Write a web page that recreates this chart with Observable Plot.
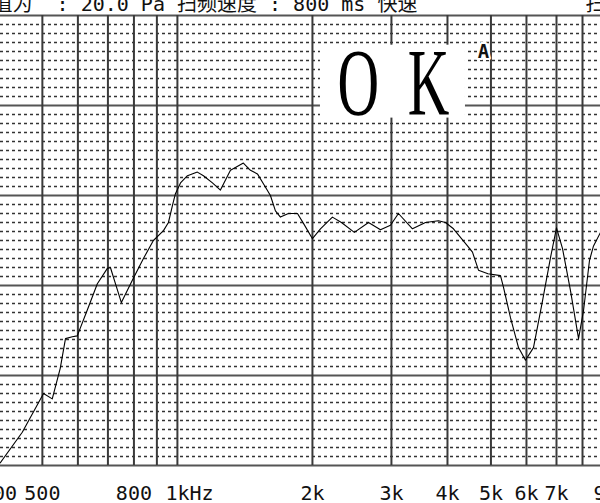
<!DOCTYPE html>
<html><head><meta charset="utf-8">
<script src="https://cdn.jsdelivr.net/npm/d3@7"></script>
<script src="https://cdn.jsdelivr.net/npm/@observablehq/plot@0.6"></script>
<style>html,body{margin:0;padding:0;background:#fff;overflow:hidden}</style>
</head><body><div id="chart"></div>
<script>
// Frequency response (Hz, dB)
const freqHz = [403,451,503,526,548,563,583,598,630,663,698,709,750,794,840,884,931,955,975,990,1016,1053,1108,1143,1197,1247,1313,1347,1403,1455,1508,1555,1612,1654,1697,1768,1852,1910,2000,2084,2216,2321,2480,2667,2836,2985,3110,3342,3573,3819,3959,4125,4432,4548,4690,4924,5251,5333,5529,5760,5970,6220,6515,6788,7000,7220,7523,7839,8041,8293,8465,8774];
const levelDb = [50.3,53.7,58.0,57.4,60.8,64.1,64.3,64.4,67.3,70.2,71.9,72.0,68.1,70.6,73.0,75.0,76.1,77.0,78.9,80.2,81.4,82.2,82.6,82.2,81.4,80.6,82.8,83.1,83.6,82.8,82.4,81.3,80.0,78.3,77.6,78.0,78.0,76.9,75.2,76.3,77.6,77.0,75.9,77.0,76.2,76.7,78.0,76.3,77.0,77.2,77.0,76.3,74.4,73.7,71.7,71.3,71.1,69.8,66.4,63.1,61.7,63.1,68.3,73.1,76.4,74.1,69.4,64.1,67.2,72.8,74.4,75.9];

const xDomain = [403.3, 8774];
const yDomain = [50, 100];
const gridFreqs = [500,600,700,800,900,1000,2000,3000,4000,5000,6000,7000,8000];
const tickFreqs = [400,500,800,1000,2000,3000,4000,5000,6000,7000,9000];
const tickLabels = ["400","500","800","1kHz","2k","3k","4k","5k","6k","7k","9k"];
const majorDb = [50,60,70,80,90,100];
const minorDb = [51,52,53,54,55,56,57,58,59,61,62,63,64,65,66,67,68,69,71,72,73,74,75,76,77,78,79,81,82,83,84,85,86,87,88,89,91,92,93,94,95,96,97,98,99];

const headerLeft = "值为  : 20.0 Pa 扫频速度 : 800 ms 快速";
const headerRight = "扫频";
const verdict = [{label: "OK", f: 3031, db: 89.0}];
const verdictBox = [{f1: 2084, f2: 4387, db1: 96.7, db2: 88.6}];
const marker = [{label: "A", f: 4810, db: 95.3}];

const nb = s => s.replace(/ /g, "\u00a0");
const okText = verdict[0].label.split("").join("\u2002");
const mono = "'DejaVu Sans Mono', 'Noto Sans CJK SC', monospace";

const curve = freqHz.map((f, i) => ({f, db: levelDb[i]}));
const ticks = tickFreqs.map((f, i) => ({f, label: tickLabels[i]}));

const plot = Plot.plot({
  width: 600, height: 503,
  marginTop: 15, marginBottom: 38, marginLeft: 0, marginRight: 0,
  x: {type: "log", domain: xDomain, axis: null},
  y: {domain: yDomain, axis: null},
  style: {background: "#fff", fontFamily: mono, overflow: "hidden"},
  marks: [
    Plot.ruleY(minorDb, {stroke: "#333", strokeWidth: 1.5, strokeDasharray: "3,3"}),
    Plot.ruleY(majorDb, {stroke: "#555", strokeWidth: 2}),
    Plot.ruleX(gridFreqs, {stroke: "#3a3a3a", strokeWidth: 2}),
    Plot.rect(verdictBox, {x1: "f1", x2: "f2", y1: "db1", y2: "db2", fill: "#fff"}),
    Plot.line(curve, {x: "f", y: "db", stroke: "#000", strokeWidth: 1.1, clip: true}),
    Plot.text(verdict, {x: "f", y: "db", text: () => okText, fontFamily: "'Liberation Serif', serif", fontSize: 96, fill: "#000", textAnchor: "middle", lineAnchor: "bottom"}),
    Plot.text(marker, {x: "f", y: "db", text: "label", fontSize: 19, fontWeight: "bold", fill: "#111", stroke: "#fff", strokeWidth: 4, paintOrder: "stroke", textAnchor: "middle", lineAnchor: "bottom"}),
    Plot.text(ticks.filter(d => d.f !== 1000), {x: "f", text: "label", frameAnchor: "bottom", dy: 34, lineAnchor: "bottom", textAnchor: "middle", fontSize: 20, fill: "#111"}),
    Plot.text(ticks.filter(d => d.f === 1000), {x: "f", text: "label", frameAnchor: "bottom", dy: 34, dx: -12, lineAnchor: "bottom", textAnchor: "start", fontSize: 20, fill: "#111"}),
    Plot.text([headerLeft], {text: d => nb(d), frameAnchor: "top-left", dx: -8, dy: -5, lineAnchor: "bottom", textAnchor: "start", fontSize: 20, fill: "#111"}),
    Plot.text([headerRight], {text: d => d, frameAnchor: "top-right", dx: -15, dy: -5, lineAnchor: "bottom", textAnchor: "start", fontSize: 20, fill: "#111"})
  ]
});

d3.select(plot).selectAll("text").filter(function() { return this.textContent === okText; }).each(function() {
  const t = this.getAttribute("transform");
  if (t) this.setAttribute("transform", t + " scale(0.6,1)");
  else {
    const x = +this.getAttribute("x") || 0, y = +this.getAttribute("y") || 0;
    this.setAttribute("x", 0); this.setAttribute("y", 0);
    this.setAttribute("transform", `translate(${x},${y}) scale(0.6,1)`);
  }
});

document.getElementById("chart").appendChild(plot);
</script>
</body></html>
